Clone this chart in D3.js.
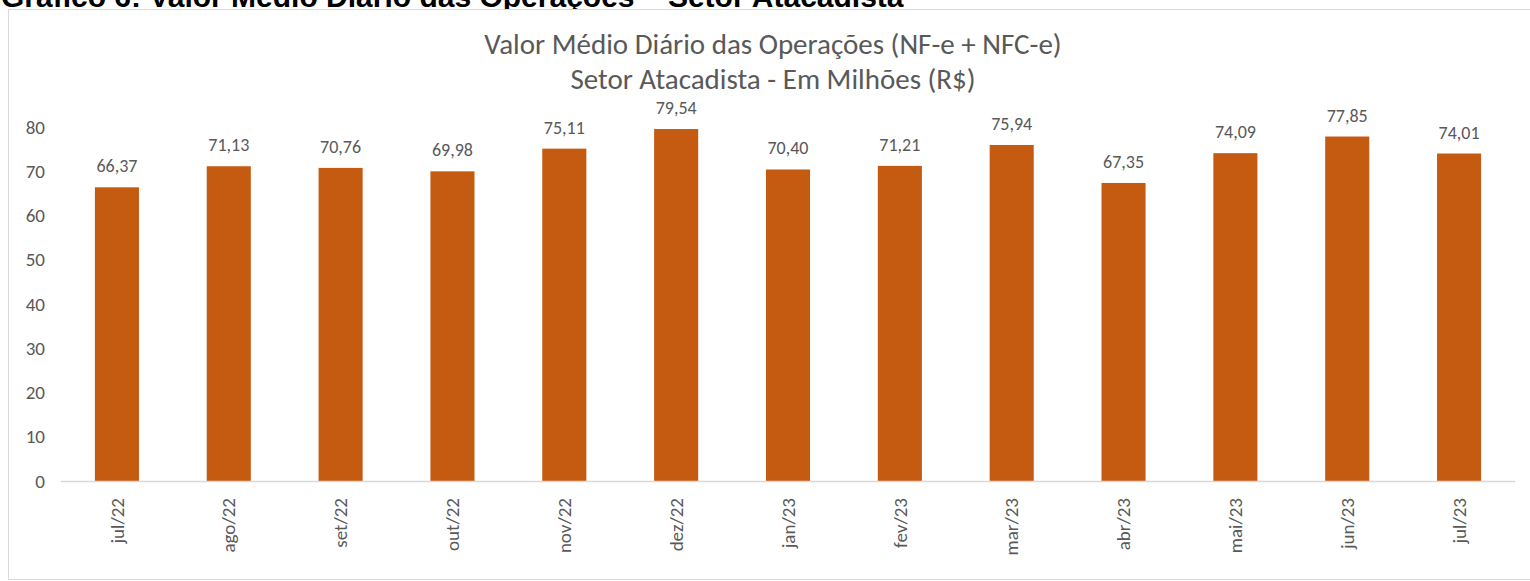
<!DOCTYPE html>
<html>
<head>
<meta charset="utf-8">
<script src="https://cdn.jsdelivr.net/npm/d3@7.9.0/dist/d3.min.js"></script>
<style>
  body { margin: 0; background: #fff; }
  svg { display: block; }
</style>
</head>
<body>
<svg id="chart" width="1530" height="581"></svg>
<script>
// data
const months = ['jul/22', 'ago/22', 'set/22', 'out/22', 'nov/22', 'dez/22', 'jan/23',
  'fev/23', 'mar/23', 'abr/23', 'mai/23', 'jun/23', 'jul/23'];
const values = [66.37, 71.13, 70.76, 69.98, 75.11, 79.54, 70.40, 71.21, 75.94, 67.35, 74.09, 77.85, 74.01];
const yTicks = [0, 10, 20, 30, 40, 50, 60, 70, 80];

const caption = 'Gráfico 6: Valor Médio Diário das Operações – Setor Atacadista';
const titleLines = ['Valor Médio Diário das Operações (NF-e + NFC-e)', 'Setor Atacadista - Em Milhões (R$)'];

const font = 'Carlito, Lato, "Liberation Sans", sans-serif';
const grey = '#595959';
const barColor = '#c55a11';

const svg = d3.select('#chart');

// caption, cut off at the top of the picture like in the source
svg.append('text')
  .attr('x', 1).attr('y', 7)
  .attr('font-family', '"Liberation Sans", Arial, sans-serif')
  .attr('font-weight', 'bold')
  .attr('font-size', 30)
  .attr('fill', '#000')
  .text(caption);

// chart frame
svg.append('rect')
  .attr('x', 8.5).attr('y', 9.5)
  .attr('width', 1530).attr('height', 570)
  .attr('fill', '#fff')
  .attr('stroke', '#d9d9d9');

// titles
titleLines.forEach((t, i) => {
  svg.append('text')
    .attr('x', 773).attr('y', 54 + i * 35)
    .attr('text-anchor', 'middle')
    .attr('font-family', font)
    .attr('font-size', 29)
    .attr('fill', grey)
    .text(t);
});

const x = d3.scaleBand()
  .domain(months)
  .range([61, 1515])
  .paddingInner(0.606)
  .paddingOuter(0.303);

const y = d3.scaleLinear()
  .domain([0, 80])
  .range([481, 127]);

// y axis labels
const yAxis = svg.append('g')
  .attr('transform', 'translate(45,0)')
  .call(d3.axisLeft(y).tickValues(yTicks).tickSize(0).tickPadding(0));
yAxis.select('.domain').remove();
yAxis.selectAll('text')
  .attr('font-family', font)
  .attr('font-size', 19)
  .attr('fill', grey);

// bars
svg.append('g').selectAll('rect')
  .data(values)
  .join('rect')
  .attr('x', (d, i) => x(months[i]))
  .attr('y', d => y(d))
  .attr('width', x.bandwidth())
  .attr('height', d => y(0) - y(d))
  .attr('fill', barColor);

// value labels
svg.append('g').selectAll('text')
  .data(values)
  .join('text')
  .attr('x', (d, i) => x(months[i]) + x.bandwidth() / 2)
  .attr('y', d => y(d) - 15)
  .attr('text-anchor', 'middle')
  .attr('font-family', font)
  .attr('font-size', 18)
  .attr('fill', grey)
  .text(d => d.toFixed(2).replace('.', ','));

// x axis
const xAxis = svg.append('g')
  .attr('transform', `translate(0,${y(0)})`)
  .call(d3.axisBottom(x).tickSize(0).tickPadding(0));
xAxis.select('.domain')
  .attr('d', 'M61,0.5H1515')
  .attr('stroke', '#d9d9d9')
  .attr('stroke-width', 1.5);
xAxis.selectAll('text')
  .attr('font-family', font)
  .attr('font-size', 19)
  .attr('fill', grey)
  .attr('text-anchor', 'end')
  .attr('dy', '0.35em')
  .attr('transform', 'translate(0,17) rotate(-90)');
</script>
</body>
</html>
